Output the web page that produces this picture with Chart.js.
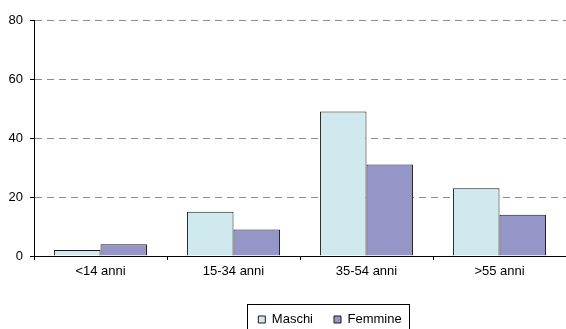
<!DOCTYPE html>
<html>
<head>
<meta charset="utf-8">
<script src="https://cdn.jsdelivr.net/npm/chart.js@4.4.0/dist/chart.umd.min.js"></script>
<style>
  html, body { margin: 0; padding: 0; background: #fff; }
</style>
</head>
<body>
<canvas id="bar-chart" width="566" height="329"></canvas>
<script>
const categories = ['<14 anni', '15-34 anni', '35-54 anni', '>55 anni'];
const maschi = [2, 15, 49, 23];
const femmine = [4, 9, 31, 14];
const yTicks = [0, 20, 40, 60, 80];

// legend in the original sits right of centre and has a thin frame
const legendFrame = {
  id: 'legendFrame',
  afterLayout(chart) {
    const lg = chart.legend;
    lg.left += 47;
    lg.right += 47;
    lg.top += 7;
    lg.bottom += 7;
  },
  afterDraw(chart) {
    const hb = chart.legend.legendHitBoxes;
    if (!hb || !hb.length) return;
    const ctx = chart.ctx;
    const last = hb[hb.length - 1];
    const x0 = Math.round(hb[0].left - 11);
    const x1 = Math.round(last.left + last.width + 7);
    const y0 = Math.round(hb[0].top - 9);
    ctx.save();
    ctx.strokeStyle = '#000';
    ctx.lineWidth = 1;
    ctx.strokeRect(x0 + 0.5, y0 + 0.5, x1 - x0, 60);
    ctx.restore();
  }
};

Chart.defaults.font.family = '"Liberation Sans", Arial, sans-serif';
Chart.defaults.font.size = 13;
Chart.defaults.color = '#000';

new Chart(document.getElementById('bar-chart'), {
  type: 'bar',
  data: {
    labels: categories,
    datasets: [
      {
        label: 'Maschi',
        data: maschi,
        backgroundColor: '#cfe9ee',
        borderColor: '#1a1a1a',
        borderWidth: 1
      },
      {
        label: 'Femmine',
        data: femmine,
        backgroundColor: '#9595c8',
        borderColor: '#1a1a1a',
        borderWidth: 1
      }
    ]
  },
  options: {
    responsive: false,
    animation: false,
    devicePixelRatio: 1,
    layout: { padding: { top: 20, right: 0, bottom: 0, left: 0 } },
    datasets: {
      bar: { categoryPercentage: 0.7, barPercentage: 1.0 }
    },
    scales: {
      x: {
        grid: {
          offset: true,
          drawOnChartArea: false,
          drawTicks: true,
          tickLength: 4,
          tickColor: '#000'
        },
        border: { color: '#000', width: 1 },
        ticks: { padding: 4, maxRotation: 0 },
        afterFit: scale => { scale.height = 29; }
      },
      y: {
        min: 0,
        max: 80,
        afterBuildTicks: scale => { scale.ticks = yTicks.map(v => ({ value: v })); },
        grid: {
          color: '#8c8c8c',
          tickColor: '#000',
          tickLength: 4,
          tickBorderDash: []
        },
        border: { color: '#000', width: 1, dash: [7, 5] },
        ticks: { padding: 7 },
        afterFit: scale => { scale.width = 34; }
      }
    },
    plugins: {
      legend: {
        position: 'bottom',
        labels: {
          boxWidth: 7,
          boxHeight: 7,
          padding: 21
        }
      },
      tooltip: { enabled: false }
    }
  },
  plugins: [legendFrame]
});
</script>
</body>
</html>
